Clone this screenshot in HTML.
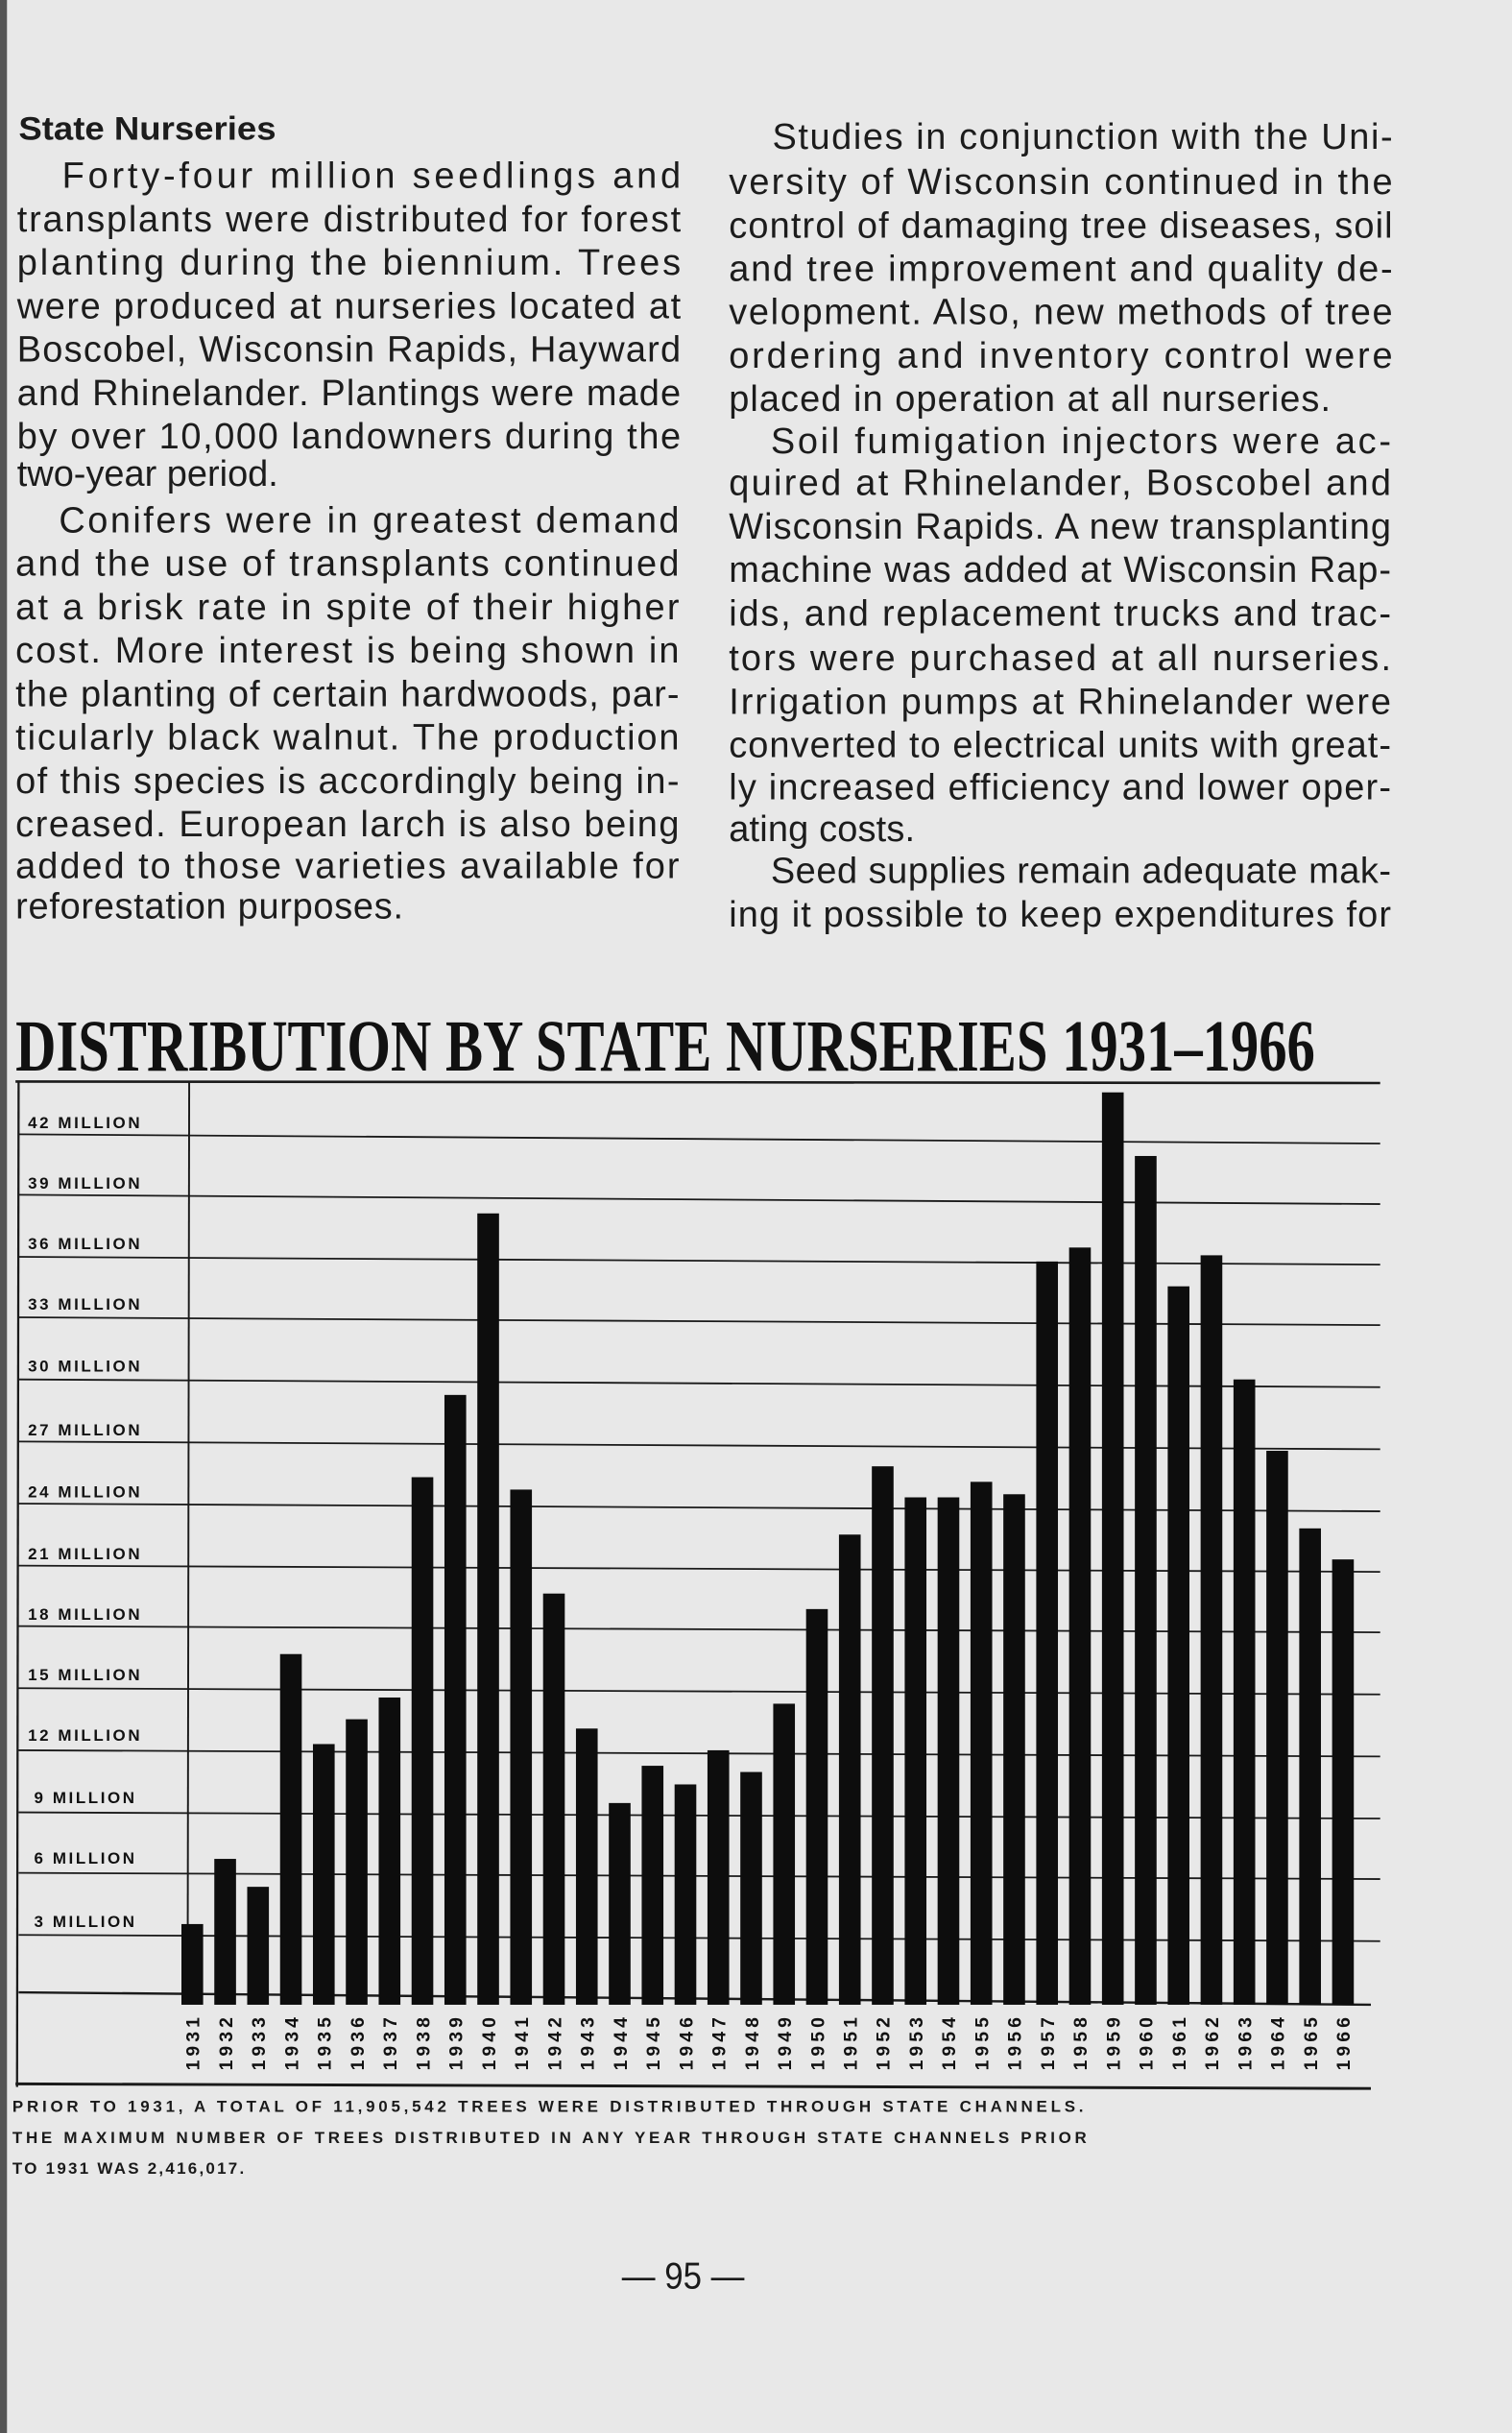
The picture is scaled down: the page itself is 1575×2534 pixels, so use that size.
<!DOCTYPE html>
<html><head><meta charset="utf-8"><style>
html,body{margin:0;padding:0;background:#e8e8e8;}
svg{display:block;}
.t{font-family:"Liberation Sans",sans-serif;font-size:23.5px;fill:#1c1c1c;}
.y{font-family:"Liberation Sans",sans-serif;font-size:10.5px;font-weight:bold;fill:#111;letter-spacing:1.6px;}
.f{font-family:"Liberation Sans",sans-serif;font-size:10.5px;font-weight:bold;fill:#1a1a1a;letter-spacing:1.4px;}
.yr{font-family:"Liberation Sans",sans-serif;font-size:12px;font-weight:bold;fill:#111;letter-spacing:2.5px;}
</style></head><body>
<svg width="1575" height="2534" viewBox="0 0 975 1568" preserveAspectRatio="none" xmlns="http://www.w3.org/2000/svg">
<rect x="0" y="0" width="975" height="1568" fill="#e8e8e8"/>
<rect x="0" y="0" width="4.5" height="1568" fill="#555"/>
<g class="t">
<text x="12" y="90" font-weight="bold" font-size="21" textLength="166" lengthAdjust="spacingAndGlyphs">State Nurseries</text>
<text x="40" y="121" textLength="399" lengthAdjust="spacing">Forty-four million seedlings and</text>
<text x="11" y="149" textLength="428" lengthAdjust="spacing">transplants were distributed for forest</text>
<text x="11" y="177" textLength="428" lengthAdjust="spacing">planting during the biennium. Trees</text>
<text x="11" y="205" textLength="428" lengthAdjust="spacing">were produced at nurseries located at</text>
<text x="11" y="233" textLength="428" lengthAdjust="spacing">Boscobel, Wisconsin Rapids, Hayward</text>
<text x="11" y="261" textLength="428" lengthAdjust="spacing">and Rhinelander. Plantings were made</text>
<text x="11" y="289" textLength="428" lengthAdjust="spacing">by over 10,000 landowners during the</text>
<text x="11" y="313">two-year period.</text>
<text x="38" y="343" textLength="400" lengthAdjust="spacing">Conifers were in greatest demand</text>
<text x="10" y="371" textLength="428" lengthAdjust="spacing">and the use of transplants continued</text>
<text x="10" y="399" textLength="428" lengthAdjust="spacing">at a brisk rate in spite of their higher</text>
<text x="10" y="427" textLength="428" lengthAdjust="spacing">cost. More interest is being shown in</text>
<text x="10" y="455" textLength="428" lengthAdjust="spacing">the planting of certain hardwoods, par-</text>
<text x="10" y="483" textLength="428" lengthAdjust="spacing">ticularly black walnut. The production</text>
<text x="10" y="511" textLength="428" lengthAdjust="spacing">of this species is accordingly being in-</text>
<text x="10" y="539" textLength="428" lengthAdjust="spacing">creased. European larch is also being</text>
<text x="10" y="566" textLength="428" lengthAdjust="spacing">added to those varieties available for</text>
<text x="10" y="592" textLength="250" lengthAdjust="spacing">reforestation purposes.</text>

<text x="498" y="96" textLength="400" lengthAdjust="spacing">Studies in conjunction with the Uni-</text>
<text x="470" y="125" textLength="428" lengthAdjust="spacing">versity of Wisconsin continued in the</text>
<text x="470" y="153" textLength="428" lengthAdjust="spacing">control of damaging tree diseases, soil</text>
<text x="470" y="181" textLength="428" lengthAdjust="spacing">and tree improvement and quality de-</text>
<text x="470" y="209" textLength="428" lengthAdjust="spacing">velopment. Also, new methods of tree</text>
<text x="470" y="237" textLength="428" lengthAdjust="spacing">ordering and inventory control were</text>
<text x="470" y="265" textLength="388" lengthAdjust="spacing">placed in operation at all nurseries.</text>
<text x="497" y="292" textLength="400" lengthAdjust="spacing">Soil fumigation injectors were ac-</text>
<text x="470" y="319" textLength="427" lengthAdjust="spacing">quired at Rhinelander, Boscobel and</text>
<text x="470" y="347" textLength="427" lengthAdjust="spacing">Wisconsin Rapids. A new transplanting</text>
<text x="470" y="375" textLength="427" lengthAdjust="spacing">machine was added at Wisconsin Rap-</text>
<text x="470" y="403" textLength="427" lengthAdjust="spacing">ids, and replacement trucks and trac-</text>
<text x="470" y="432" textLength="427" lengthAdjust="spacing">tors were purchased at all nurseries.</text>
<text x="470" y="460" textLength="427" lengthAdjust="spacing">Irrigation pumps at Rhinelander were</text>
<text x="470" y="488" textLength="427" lengthAdjust="spacing">converted to electrical units with great-</text>
<text x="470" y="515" textLength="427" lengthAdjust="spacing">ly increased efficiency and lower oper-</text>
<text x="470" y="542" textLength="120" lengthAdjust="spacing">ating costs.</text>
<text x="497" y="569" textLength="400" lengthAdjust="spacing">Seed supplies remain adequate mak-</text>
<text x="470" y="597" textLength="427" lengthAdjust="spacing">ing it possible to keep expenditures for</text>
</g>

<text x="10" y="690" font-family="Liberation Serif,serif" font-weight="bold" font-size="47" fill="#111" textLength="838" lengthAdjust="spacingAndGlyphs">DISTRIBUTION  BY  STATE  NURSERIES  1931–1966</text>

<g stroke="#1a1a1a" fill="none">
<line x1="10" y1="697" x2="890" y2="698" stroke-width="1.6"/>
<line x1="12" y1="697" x2="11" y2="1345" stroke-width="1.4"/>
<line x1="122" y1="697" x2="121" y2="1287" stroke-width="1.2"/>
<line x1="10" y1="1343" x2="884" y2="1346" stroke-width="1.8"/>
<g stroke-width="1.1">
<line x1="12" y1="731" x2="890" y2="737"/>
<line x1="12" y1="770" x2="890" y2="776"/>
<line x1="12" y1="810" x2="890" y2="815"/>
<line x1="12" y1="849" x2="890" y2="854"/>
<line x1="12" y1="889" x2="890" y2="894"/>
<line x1="12" y1="929" x2="890" y2="934"/>
<line x1="12" y1="969" x2="890" y2="974"/>
<line x1="12" y1="1009" x2="890" y2="1013"/>
<line x1="12" y1="1048" x2="890" y2="1052"/>
<line x1="12" y1="1088" x2="890" y2="1092"/>
<line x1="12" y1="1128" x2="890" y2="1132"/>
<line x1="12" y1="1168" x2="890" y2="1172"/>
<line x1="12" y1="1207" x2="890" y2="1211"/>
<line x1="12" y1="1247" x2="890" y2="1251"/>
<line x1="12" y1="1284" x2="884" y2="1292" stroke-width="1.5"/>
</g>
</g>

<g class="y">
<text x="18" y="727">42  MILLION</text>
<text x="18" y="766">39  MILLION</text>
<text x="18" y="805">36  MILLION</text>
<text x="18" y="844">33  MILLION</text>
<text x="18" y="884">30  MILLION</text>
<text x="18" y="925">27  MILLION</text>
<text x="18" y="965">24  MILLION</text>
<text x="18" y="1005">21  MILLION</text>
<text x="18" y="1044">18  MILLION</text>
<text x="18" y="1083">15  MILLION</text>
<text x="18" y="1122">12  MILLION</text>
<text x="22" y="1162">9  MILLION</text>
<text x="22" y="1201">6  MILLION</text>
<text x="22" y="1242">3  MILLION</text>
</g>

<g fill="#0d0d0d">
<rect x="117" y="1240" width="14" height="52"/>
<rect x="138.2" y="1198" width="14" height="94"/>
<rect x="159.4" y="1216" width="14" height="76"/>
<rect x="180.6" y="1066" width="14" height="226"/>
<rect x="201.8" y="1124" width="14" height="168"/>
<rect x="223" y="1108" width="14" height="184"/>
<rect x="244.2" y="1094" width="14" height="198"/>
<rect x="265.4" y="952" width="14" height="340"/>
<rect x="286.6" y="899" width="14" height="393"/>
<rect x="307.8" y="782" width="14" height="510"/>
<rect x="329" y="960" width="14" height="332"/>
<rect x="350.2" y="1027" width="14" height="265"/>
<rect x="371.4" y="1114" width="14" height="178"/>
<rect x="392.6" y="1162" width="14" height="130"/>
<rect x="413.8" y="1138" width="14" height="154"/>
<rect x="435" y="1150" width="14" height="142"/>
<rect x="456.2" y="1128" width="14" height="164"/>
<rect x="477.4" y="1142" width="14" height="150"/>
<rect x="498.6" y="1098" width="14" height="194"/>
<rect x="519.8" y="1037" width="14" height="255"/>
<rect x="541" y="989" width="14" height="303"/>
<rect x="562.2" y="945" width="14" height="347"/>
<rect x="583.4" y="965" width="14" height="327"/>
<rect x="604.6" y="965" width="14" height="327"/>
<rect x="625.8" y="955" width="14" height="337"/>
<rect x="647" y="963" width="14" height="329"/>
<rect x="668.2" y="813" width="14" height="479"/>
<rect x="689.4" y="804" width="14" height="488"/>
<rect x="710.6" y="704" width="14" height="588"/>
<rect x="731.8" y="745" width="14" height="547"/>
<rect x="753" y="829" width="14" height="463"/>
<rect x="774.2" y="809" width="14" height="483"/>
<rect x="795.4" y="889" width="14" height="403"/>
<rect x="816.6" y="935" width="14" height="357"/>
<rect x="837.8" y="985" width="14" height="307"/>
<rect x="859" y="1005" width="14" height="287"/>
</g>

<g class="yr" text-anchor="middle">
<text transform="translate(128.5,1316) rotate(-90)">1931</text>
<text transform="translate(149.7,1316) rotate(-90)">1932</text>
<text transform="translate(170.9,1316) rotate(-90)">1933</text>
<text transform="translate(192.1,1316) rotate(-90)">1934</text>
<text transform="translate(213.3,1316) rotate(-90)">1935</text>
<text transform="translate(234.5,1316) rotate(-90)">1936</text>
<text transform="translate(255.7,1316) rotate(-90)">1937</text>
<text transform="translate(276.9,1316) rotate(-90)">1938</text>
<text transform="translate(298.1,1316) rotate(-90)">1939</text>
<text transform="translate(319.3,1316) rotate(-90)">1940</text>
<text transform="translate(340.5,1316) rotate(-90)">1941</text>
<text transform="translate(361.7,1316) rotate(-90)">1942</text>
<text transform="translate(382.9,1316) rotate(-90)">1943</text>
<text transform="translate(404.1,1316) rotate(-90)">1944</text>
<text transform="translate(425.3,1316) rotate(-90)">1945</text>
<text transform="translate(446.5,1316) rotate(-90)">1946</text>
<text transform="translate(467.7,1316) rotate(-90)">1947</text>
<text transform="translate(488.9,1316) rotate(-90)">1948</text>
<text transform="translate(510.1,1316) rotate(-90)">1949</text>
<text transform="translate(531.3,1316) rotate(-90)">1950</text>
<text transform="translate(552.5,1316) rotate(-90)">1951</text>
<text transform="translate(573.7,1316) rotate(-90)">1952</text>
<text transform="translate(594.9,1316) rotate(-90)">1953</text>
<text transform="translate(616.1,1316) rotate(-90)">1954</text>
<text transform="translate(637.3,1316) rotate(-90)">1955</text>
<text transform="translate(658.5,1316) rotate(-90)">1956</text>
<text transform="translate(679.7,1316) rotate(-90)">1957</text>
<text transform="translate(700.9,1316) rotate(-90)">1958</text>
<text transform="translate(722.1,1316) rotate(-90)">1959</text>
<text transform="translate(743.3,1316) rotate(-90)">1960</text>
<text transform="translate(764.5,1316) rotate(-90)">1961</text>
<text transform="translate(785.7,1316) rotate(-90)">1962</text>
<text transform="translate(806.9,1316) rotate(-90)">1963</text>
<text transform="translate(828.1,1316) rotate(-90)">1964</text>
<text transform="translate(849.3,1316) rotate(-90)">1965</text>
<text transform="translate(870.5,1316) rotate(-90)">1966</text>
</g>

<g class="f">
<text x="8" y="1361" textLength="692" lengthAdjust="spacing">PRIOR  TO 1931, A  TOTAL  OF 11,905,542  TREES  WERE DISTRIBUTED  THROUGH  STATE  CHANNELS.</text>
<text x="8" y="1381" textLength="694" lengthAdjust="spacing">THE  MAXIMUM  NUMBER  OF  TREES  DISTRIBUTED  IN  ANY  YEAR  THROUGH  STATE  CHANNELS  PRIOR</text>
<text x="8" y="1401">TO 1931 WAS 2,416,017.</text>
</g>

<text x="401" y="1475" font-family="Liberation Sans,sans-serif" font-size="24" fill="#1a1a1a" textLength="79" lengthAdjust="spacingAndGlyphs">— 95 —</text>
</svg>
</body></html>
